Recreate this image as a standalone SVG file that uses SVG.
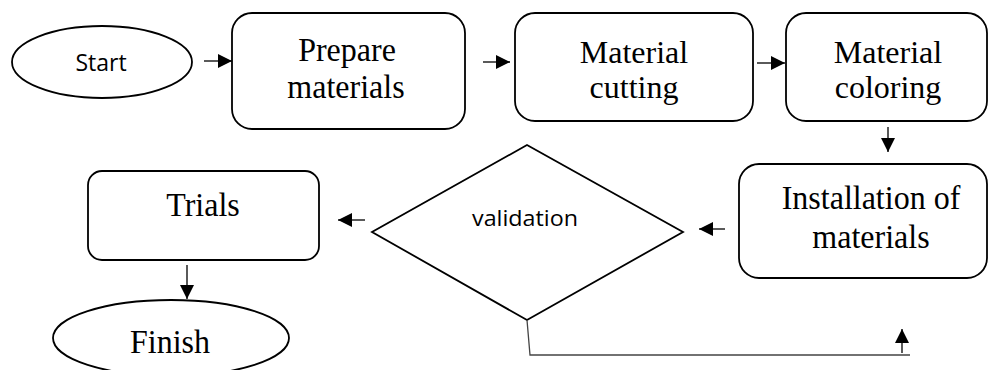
<svg xmlns="http://www.w3.org/2000/svg" width="989" height="370" viewBox="0 0 989 370">
<style>
.shape{fill:#fff;stroke:#000;stroke-width:1.8}
.serif{font-family:"Liberation Serif","Times New Roman",serif;font-size:32px;fill:#000;text-anchor:middle}
.sans{font-family:"Open Sans","DejaVu Sans",sans-serif;fill:#000;text-anchor:middle}
.conn{stroke:#000;stroke-width:1.3;fill:none}
.thin{stroke:#444;stroke-width:1.3;fill:none}
</style>
<defs>
<marker id="ah" markerUnits="userSpaceOnUse" markerWidth="14" markerHeight="14" refX="14" refY="7" orient="auto">
<path d="M0,0 L14,7 L0,14 z" fill="#000"/>
</marker>
</defs>
<rect width="989" height="370" fill="#fff"/>
<g id="start">
<ellipse class="shape" cx="102" cy="62" rx="90" ry="36"/>
<text class="sans" x="101" y="71" font-size="23">Start</text>
</g>
<g id="prepare">
<rect class="shape" x="232" y="13" width="233" height="116" rx="20"/>
<text class="serif" transform="translate(347,61) scale(1,1.08)">Prepare</text>
<text class="serif" transform="translate(346,98) scale(1,1.08)">materials</text>
</g>
<g id="cutting">
<rect class="shape" x="515" y="13" width="238" height="108" rx="20"/>
<text class="serif" x="634" y="63" font-size="31">Material</text>
<text class="serif" x="634" y="98" font-size="31">cutting</text>
</g>
<g id="coloring">
<rect class="shape" x="786" y="13" width="201" height="108" rx="20"/>
<text class="serif" x="888" y="63" font-size="31">Material</text>
<text class="serif" x="888" y="98" font-size="31">coloring</text>
</g>
<g id="installation">
<rect class="shape" x="739" y="164" width="248" height="114" rx="20"/>
<text class="serif" transform="translate(871,209) scale(1,1.08)">Installation of</text>
<text class="serif" transform="translate(871,248) scale(1,1.08)">materials</text>
</g>
<g id="validation">
<polygon class="shape" points="527,145 683,232 527,320 372,232"/>
<text class="sans" x="525" y="226" font-size="21" textLength="106" lengthAdjust="spacingAndGlyphs">validation</text>
</g>
<g id="trials">
<rect class="shape" x="88" y="171" width="231" height="89" rx="14"/>
<text class="serif" transform="translate(203,216) scale(1,1.08)" font-size="30">Trials</text>
</g>
<g id="finish">
<ellipse class="shape" cx="171" cy="338" rx="118" ry="38"/>
<text class="serif" transform="translate(170,353) scale(1,1.08)" font-size="30">Finish</text>
</g>
<g id="connectors">
<line class="conn" x1="204" y1="61" x2="232" y2="61" marker-end="url(#ah)"/>
<line class="conn" x1="483" y1="62" x2="510" y2="62" marker-end="url(#ah)"/>
<line class="conn" x1="757" y1="63" x2="785" y2="63" marker-end="url(#ah)"/>
<line class="conn" x1="888" y1="127" x2="888" y2="152" marker-end="url(#ah)"/>
<line class="conn" x1="725" y1="229" x2="699" y2="229" marker-end="url(#ah)"/>
<line class="conn" x1="365" y1="220" x2="338" y2="220" marker-end="url(#ah)"/>
<line class="conn" x1="187" y1="265" x2="187" y2="299" marker-end="url(#ah)"/>
<polyline class="thin" points="527,320 530,355 910,355"/>
<line class="conn" x1="902" y1="353" x2="902" y2="329" marker-end="url(#ah)"/>
</g>
</svg>
